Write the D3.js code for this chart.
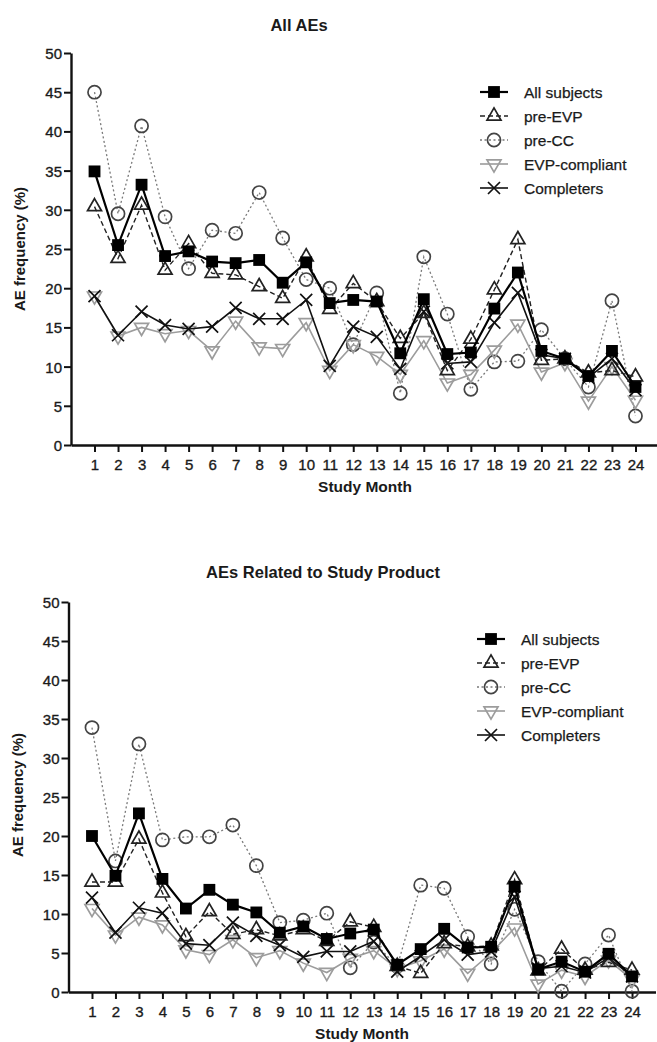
<!DOCTYPE html>
<html>
<head>
<meta charset="utf-8">
<script src="https://cdn.jsdelivr.net/npm/d3@7"></script>
<style>
  body { margin: 0; background: #fff; }
  text { font-family: "Liberation Sans", Arial, sans-serif; fill: #1a1a1a; }
</style>
</head>
<body>
<script>
//Width and height
var w = 657;
var h = 1042;

var months = d3.range(1, 25);
var seriesNames = ["All subjects", "pre-EVP", "pre-CC", "EVP-compliant", "Completers"];
var yTicks = [0, 5, 10, 15, 20, 25, 30, 35, 40, 45, 50];

//All AEs (top panel)
var allSubjects1 = [34.9, 25.5, 33.2, 24.1, 24.7, 23.4, 23.2, 23.6, 20.7, 23.3, 18.1, 18.5, 18.3, 11.7, 18.6, 11.6, 11.8, 17.4, 22.0, 12.0, 11.0, 8.8, 12.0, 7.4];
var preEVP1      = [30.4, 23.8, 30.6, 22.3, 25.7, 21.9, 21.7, 20.2, 18.7, 24.0, 17.3, 20.6, 18.3, 13.6, 16.8, 9.5, 13.5, 19.8, 26.2, 10.8, 11.0, 9.2, 9.5, 8.7];
var preCC1       = [45.0, 29.5, 40.7, 29.1, 22.5, 27.4, 27.0, 32.2, 26.4, 21.1, 20.0, 12.8, 19.4, 6.6, 24.0, 16.7, 7.1, 10.6, 10.7, 14.7, 11.0, 7.4, 18.4, 3.7];
var evpComp1     = [19.0, 13.9, 15.0, 14.2, 14.6, 12.0, 15.8, 12.5, 12.3, 15.6, 9.5, 12.8, 11.3, 9.0, 13.3, 7.9, 9.0, 12.1, 15.4, 9.3, 10.5, 5.6, 10.0, 5.7];
var completers1  = [19.0, 14.0, 17.0, 15.3, 14.8, 15.1, 17.5, 16.1, 16.1, 18.5, 10.1, 15.1, 13.8, 9.7, 17.0, 10.4, 10.6, 15.6, 19.4, 11.5, 11.0, 8.6, 11.0, 7.0];

//AEs related to study product (bottom panel)
var allSubjects2 = [20.0, 14.9, 22.9, 14.5, 10.7, 13.1, 11.2, 10.2, 7.6, 8.4, 6.8, 7.5, 8.0, 3.5, 5.5, 8.1, 5.7, 5.8, 13.5, 2.9, 3.9, 2.6, 4.9, 2.0];
var preEVP2      = [14.1, 14.1, 19.6, 12.7, 7.1, 10.3, 7.4, 8.0, 7.2, 8.0, 6.5, 9.0, 8.3, 3.3, 2.4, 6.2, 5.8, 5.9, 14.4, 2.7, 5.5, 2.8, 3.8, 2.8];
var preCC2       = [33.9, 16.8, 31.8, 19.5, 19.9, 19.9, 21.4, 16.2, 8.9, 9.2, 10.1, 3.1, 6.4, 3.3, 13.7, 13.3, 7.1, 3.6, 10.6, 3.9, 0.1, 3.6, 7.3, 0.1];
var evpComp2     = [10.7, 7.3, 9.6, 8.6, 5.4, 4.8, 6.7, 4.4, 5.3, 3.7, 2.5, 4.3, 5.3, 3.0, 4.0, 5.5, 2.4, 5.0, 8.2, 1.0, 2.8, 2.0, 4.1, 1.6];
var completers2  = [12.1, 7.6, 10.8, 10.1, 6.2, 6.0, 8.9, 7.2, 6.0, 4.5, 5.2, 5.2, 6.5, 2.6, 4.6, 6.7, 4.8, 5.2, 12.2, 3.0, 3.3, 2.5, 4.4, 2.0];

//series styles: drawn bottom to top
var styles = {
    "pre-CC":        {stroke: "#7a7a7a", mark: "#444", width: 1.3, dash: "2,2.5", shape: "circle"},
    "EVP-compliant": {stroke: "#9c9c9c", mark: "#9c9c9c", width: 1.6, dash: null, shape: "down"},
    "Completers":    {stroke: "#111", mark: "#111", width: 1.6, dash: null, shape: "x"},
    "pre-EVP":       {stroke: "#222", mark: "#222", width: 1.4, dash: "5,3", shape: "up"},
    "All subjects":  {stroke: "#000", mark: "#000", width: 2.2, dash: null, shape: "square"}
};
var drawOrder = ["pre-CC", "EVP-compliant", "Completers", "pre-EVP", "All subjects"];

var svg = d3.select("body")
            .append("svg")
            .attr("width", w)
            .attr("height", h);

function markerPath(shape) {
    if (shape === "square") return d3.symbol().type(d3.symbolSquare).size(140)();
    if (shape === "circle") return d3.symbol().type(d3.symbolCircle).size(135)();
    if (shape === "up") return d3.symbol().type(d3.symbolTriangle).size(85)();
    if (shape === "down") return d3.symbol().type(d3.symbolTriangle).size(85)();
    return "M-6,-6L6,6M-6,6L6,-6";
}

function drawMarker(g, shape, st) {
    var p = g.append("path").attr("d", markerPath(shape));
    if (shape === "square") {
        p.attr("fill", st.mark);
    } else {
        p.attr("fill", "none").attr("stroke", st.mark).attr("stroke-width", 1.7);
    }
    if (shape === "down") p.attr("transform", "rotate(180)");
    return p;
}

function drawPanel(cfg, data) {
    var xScale = d3.scaleLinear().domain([0, 25]).range([cfg.left, cfg.right]);
    var yScale = d3.scaleLinear().domain([0, 50]).range([cfg.bottom, cfg.top]);

    var g = svg.append("g");

    //Axes
    var xAxis = d3.axisBottom(xScale).tickValues(months).tickSize(7).tickPadding(4).tickSizeOuter(0);
    var yAxis = d3.axisLeft(yScale).tickValues(yTicks).tickSize(7).tickPadding(2).tickSizeOuter(0);

    var gx = g.append("g").attr("transform", "translate(0," + cfg.bottom + ")").call(xAxis);
    var gy = g.append("g").attr("transform", "translate(" + cfg.left + ",0)").call(yAxis);
    [gx, gy].forEach(function(a) {
        a.select(".domain").attr("stroke", "#111").attr("stroke-width", 2.4);
        a.selectAll(".tick line").attr("stroke", "#111").attr("stroke-width", 2);
        a.selectAll(".tick text").attr("font-size", 15).attr("fill", "#1a1a1a")
            .attr("stroke", "#1a1a1a").attr("stroke-width", 0.35)
            .style("font-family", "'Liberation Sans', Arial, sans-serif");
    });
    gx.selectAll(".tick text").attr("dy", "0.95em");
    gy.selectAll(".tick text").attr("dy", "0.36em");

    //Titles
    g.append("text").attr("x", cfg.titleX).attr("y", cfg.titleY)
        .attr("text-anchor", "middle").attr("font-size", 16.5).attr("font-weight", "bold")
        .text(cfg.title);
    g.append("text").attr("x", (cfg.left + cfg.right) / 2).attr("y", cfg.bottom + 47)
        .attr("text-anchor", "middle").attr("font-size", 15.5).attr("font-weight", "bold")
        .text("Study Month");
    g.append("text")
        .attr("transform", "translate(" + cfg.ylabX + "," + cfg.ylabY + ") rotate(-90)")
        .attr("text-anchor", "middle").attr("font-size", 15).attr("font-weight", "bold")
        .text("AE frequency (%)");

    //Line generator
    var line = d3.line()
                .x(function(d, i) { return xScale(months[i]); })
                .y(function(d) { return yScale(d); });

    drawOrder.forEach(function(name) {
        var st = styles[name];
        var vals = data[seriesNames.indexOf(name)];
        g.append("path")
            .datum(vals)
            .attr("fill", "none")
            .attr("stroke", st.stroke)
            .attr("stroke-width", st.width)
            .attr("stroke-dasharray", st.dash)
            .attr("d", line);
        vals.forEach(function(v, i) {
            var m = g.append("g").attr("transform", "translate(" + xScale(months[i]) + "," + yScale(v) + ")");
            drawMarker(m, st.shape, st);
        });
    });

    //Legend
    var leg = g.append("g");
    seriesNames.forEach(function(name, i) {
        var st = styles[name];
        var y = cfg.legY + i * 24;
        leg.append("line")
            .attr("x1", cfg.legX - 14).attr("x2", cfg.legX + 14)
            .attr("y1", y).attr("y2", y)
            .attr("stroke", st.stroke).attr("stroke-width", st.width)
            .attr("stroke-dasharray", st.dash);
        var m = leg.append("g").attr("transform", "translate(" + cfg.legX + "," + y + ")");
        drawMarker(m, st.shape, st);
        leg.append("text").attr("x", cfg.legX + 30).attr("y", y + 5.5)
            .attr("font-size", 15.5).attr("stroke", "#1a1a1a").attr("stroke-width", 0.25)
            .text(name);
    });
}

drawPanel({left: 71, right: 659, top: 53, bottom: 445, title: "All AEs", titleX: 299, titleY: 31,
           ylabX: 25, ylabY: 249, legX: 494, legY: 92},
          [allSubjects1, preEVP1, preCC1, evpComp1, completers1]);

drawPanel({left: 68.5, right: 655.5, top: 602, bottom: 992, title: "AEs Related to Study Product", titleX: 323, titleY: 578,
           ylabX: 23, ylabY: 795, legX: 491, legY: 639},
          [allSubjects2, preEVP2, preCC2, evpComp2, completers2]);
</script>
</body>
</html>
